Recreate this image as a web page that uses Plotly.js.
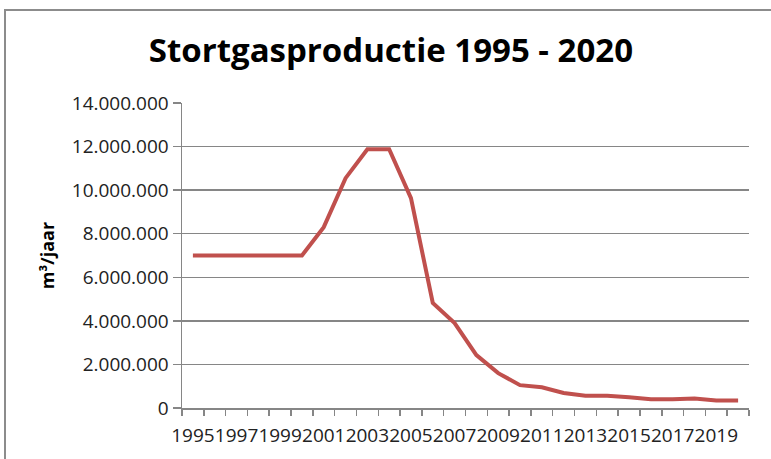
<!DOCTYPE html>
<html>
<head>
<meta charset="utf-8">
<script src="https://cdn.plot.ly/plotly-3.0.1.min.js"></script>
<style>
  html, body { margin: 0; padding: 0; background: #ffffff; }
  #frame { position: absolute; left: 4px; top: 9px; width: 820px; height: 520px; border: 2px solid #8c8c8c; }
  #chart { position: absolute; left: 0; top: 0; width: 771px; height: 459px; }
</style>
</head>
<body>
<div id="frame"></div>
<div id="chart"></div>
<script>
const years = [1995,1996,1997,1998,1999,2000,2001,2002,2003,2004,2005,2006,2007,2008,2009,2010,2011,2012,2013,2014,2015,2016,2017,2018,2019,2020];
const production = [7000000,7000000,7000000,7000000,7000000,7000000,8300000,10550000,11880000,11880000,9630000,4820000,3900000,2430000,1600000,1050000,950000,690000,560000,560000,490000,400000,400000,440000,340000,340000];
const xTickLabels = [1995,1997,1999,2001,2003,2005,2007,2009,2011,2013,2015,2017,2019];
const yTickValues = [0,2000000,4000000,6000000,8000000,10000000,12000000,14000000];

const font = "Open Sans, Noto Sans, sans-serif";
const gray = "#868686";

Plotly.newPlot("chart", [{
  x: years,
  y: production,
  type: "scatter",
  mode: "lines",
  line: { color: "#c0504d", width: 4 },
  hoverinfo: "skip"
}], {
  width: 771,
  height: 459,
  margin: { l: 182, r: 22, t: 103, b: 51 },
  paper_bgcolor: "rgba(0,0,0,0)",
  plot_bgcolor: "#ffffff",
  separators: ",.",
  showlegend: false,
  title: {
    text: "<b>Stortgasproductie 1995 - 2020</b>",
    font: { family: font, size: 33, color: "#000000" },
    x: 0.507, xanchor: "center",
    y: 0.89, yanchor: "middle"
  },
  xaxis: {
    type: "linear",
    range: [1994.5, 2020.5],
    tickmode: "array",
    tickvals: xTickLabels,
    ticktext: xTickLabels.map(String),
    tickangle: 0,
    ticks: "",
    ticklabelstandoff: 10,
    showgrid: false,
    zeroline: false,
    showline: true,
    linecolor: gray,
    linewidth: 1.5,
    tickfont: { family: font, size: 19, color: "#222222" },
    minor: { tickmode: "linear", tick0: 1994.5, dtick: 1, ticks: "outside", ticklen: 6, tickwidth: 1.5, tickcolor: gray, showgrid: false }
  },
  yaxis: {
    range: [0, 14000000],
    tickmode: "array",
    tickvals: yTickValues,
    tickformat: ",d",
    ticks: "outside",
    ticklen: 8,
    tickwidth: 1.5,
    tickcolor: gray,
    showgrid: true,
    gridcolor: gray,
    gridwidth: 1.5,
    zeroline: false,
    showline: true,
    linecolor: gray,
    linewidth: 1.5,
    tickfont: { family: font, size: 19, color: "#222222" },
    title: { text: "<b>m³/jaar</b>", font: { family: font, size: 18, color: "#000000" }, standoff: 12 }
  }
}, { displayModeBar: false, staticPlot: true });
</script>
</body>
</html>
